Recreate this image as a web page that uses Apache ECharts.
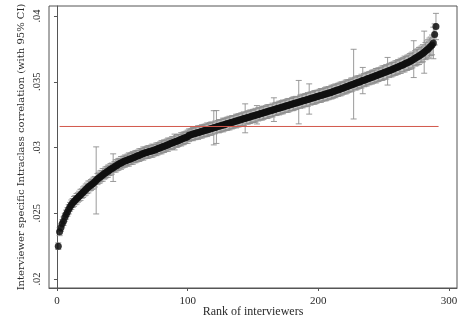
<!DOCTYPE html>
<html>
<head>
<meta charset="utf-8">
<script src="https://cdn.jsdelivr.net/npm/echarts@6/dist/echarts.min.js"></script>
<style>
html,body{margin:0;padding:0;background:#fff;}
#c{width:468px;height:320px;}
</style>
</head>
<body>
<div id="c"></div>
<script>
// Interviewer-specific ICC estimates, sorted by rank (rank = position + 1)
const iccValues = [
.02250,.02360,.02390,.02420,.02440,.02470,.02490,.02510,.02530,.02550,
.02565,.02578,.02590,.02600,.02610,.02620,.02630,.02640,.02650,.02660,
.02670,.02680,.02690,.02700,.02708,.02715,.02722,.02730,.02740,.02750,
.02760,.02768,.02776,.02784,.02792,.02800,.02807,.02814,.02820,.02827,
.02834,.02840,.02847,.02853,.02860,.02866,.02872,.02878,.02883,.02888,
.02893,.02897,.02901,.02905,.02909,.02913,.02917,.02921,.02925,.02930,
.02934,.02938,.02942,.02946,.02950,.02954,.02958,.02961,.02964,.02967,
.02970,.02973,.02976,.02979,.02982,.02986,.02990,.02994,.02998,.03002,
.03006,.03010,.03014,.03018,.03022,.03026,.03030,.03034,.03038,.03042,
.03046,.03050,.03054,.03058,.03062,.03066,.03070,.03074,.03078,.03082,
.03093,.03096,.03099,.03102,.03105,.03108,.03111,.03114,.03117,.03120,
.03123,.03126,.03129,.03132,.03135,.03138,.03141,.03144,.03147,.03150,
.03153,.03156,.03159,.03162,.03165,.03168,.03171,.03174,.03177,.03180,
.03183,.03186,.03189,.03192,.03195,.03198,.03201,.03204,.03207,.03210,
.03213,.03216,.03219,.03222,.03225,.03228,.03231,.03234,.03237,.03240,
.03243,.03246,.03249,.03252,.03255,.03258,.03261,.03264,.03267,.03270,
.03273,.03276,.03279,.03282,.03285,.03288,.03291,.03294,.03297,.03300,
.03303,.03306,.03309,.03312,.03315,.03318,.03321,.03324,.03327,.03330,
.03333,.03336,.03339,.03342,.03345,.03348,.03351,.03354,.03357,.03360,
.03363,.03366,.03369,.03372,.03375,.03378,.03381,.03384,.03387,.03390,
.03393,.03396,.03399,.03402,.03405,.03408,.03411,.03414,.03417,.03421,
.03424,.03428,.03431,.03435,.03438,.03442,.03445,.03449,.03452,.03456,
.03460,.03464,.03467,.03471,.03475,.03479,.03482,.03486,.03490,.03494,
.03497,.03501,.03505,.03509,.03512,.03516,.03520,.03524,.03527,.03531,
.03535,.03539,.03542,.03546,.03550,.03554,.03557,.03561,.03565,.03569,
.03572,.03576,.03580,.03584,.03588,.03592,.03596,.03600,.03604,.03608,
.03613,.03617,.03621,.03626,.03630,.03635,.03640,.03644,.03649,.03654,
.03660,.03666,.03672,.03678,.03684,.03690,.03696,.03703,.03710,.03717,
.03725,.03733,.03742,.03750,.03760,.03770,.03780,.03795,.03860,.03920
];

// Half-width of the 95% CI for each interviewer (same order)
const ciHalfWidth = [
.00025,.00030,.00028,.00030,.00032,.00030,.00034,.00032,.00035,.00033,
.00036,.00034,.00038,.00035,.00040,.00036,.00038,.00042,.00036,.00040,
.00038,.00042,.00040,.00045,.00038,.00042,.00040,.00044,.00040,.00255,
.00042,.00040,.00045,.00042,.00048,.00040,.00044,.00042,.00046,.00040,
.00044,.00042,.00105,.00040,.00046,.00042,.00045,.00040,.00048,.00044,
.00042,.00046,.00040,.00045,.00050,.00042,.00044,.00048,.00040,.00046,
.00044,.00042,.00048,.00045,.00040,.00050,.00044,.00042,.00046,.00048,
.00042,.00045,.00050,.00044,.00040,.00048,.00046,.00042,.00045,.00050,
.00044,.00048,.00042,.00046,.00050,.00044,.00042,.00048,.00045,.00060,
.00044,.00048,.00046,.00042,.00050,.00045,.00048,.00044,.00046,.00050,
.00048,.00044,.00046,.00050,.00045,.00048,.00044,.00052,.00046,.00048,
.00050,.00045,.00048,.00046,.00052,.00044,.00048,.00050,.00046,.00130,
.00048,.00125,.00046,.00050,.00048,.00045,.00052,.00048,.00046,.00050,
.00048,.00052,.00046,.00050,.00048,.00045,.00052,.00048,.00050,.00046,
.00050,.00048,.00052,.00110,.00046,.00050,.00048,.00052,.00046,.00050,
.00048,.00052,.00070,.00050,.00046,.00048,.00052,.00050,.00046,.00048,
.00052,.00050,.00048,.00046,.00052,.00090,.00048,.00050,.00046,.00052,
.00048,.00050,.00052,.00046,.00048,.00050,.00052,.00048,.00046,.00050,
.00052,.00048,.00050,.00046,.00165,.00050,.00048,.00052,.00046,.00050,
.00048,.00052,.00115,.00050,.00046,.00048,.00052,.00050,.00048,.00046,
.00050,.00052,.00048,.00046,.00050,.00052,.00048,.00050,.00046,.00052,
.00050,.00048,.00052,.00046,.00050,.00048,.00052,.00050,.00046,.00048,
.00052,.00050,.00048,.00046,.00052,.00050,.00265,.00048,.00052,.00050,
.00048,.00046,.00052,.00100,.00050,.00048,.00052,.00046,.00050,.00048,
.00052,.00050,.00048,.00055,.00050,.00052,.00048,.00050,.00055,.00052,
.00050,.00055,.00105,.00052,.00050,.00055,.00052,.00050,.00055,.00052,
.00055,.00052,.00058,.00050,.00055,.00060,.00052,.00058,.00055,.00060,
.00058,.00060,.00140,.00058,.00062,.00060,.00065,.00060,.00062,.00065,
.00160,.00065,.00068,.00070,.00072,.00070,.00075,.00120,.00080,.00100
];

const overallIcc = 0.0316;           // reference (red) line
const meanLineRange = [2, 292];       // x extent of red line
const xTicks = [0, 100, 200, 300];
const yTicks = [0.02, 0.025, 0.03, 0.035, 0.04];
const yTickLabels = ['.02', '.025', '.03', '.035', '.04'];
const xTitle = 'Rank of interviewers';
const yTitle = 'Interviewer specific Intraclass correlation (with 95% CI)';

const points = iccValues.map((v, i) => [i + 1, v]);
const bars = iccValues.map((v, i) => [i + 1, v - ciHalfWidth[i], v + ciHalfWidth[i]]);

const font = 'Liberation Serif';
const textColor = '#2a2a2a';

const chart = echarts.init(document.getElementById('c'));
chart.setOption({
  animation: false,
  backgroundColor: '#fff',
  grid: { left: 49, right: 11, top: 6, bottom: 32, outerBoundsMode: 'none', containLabel: false,
          show: true, borderColor: '#555', borderWidth: 1, backgroundColor: '#fff' },
  xAxis: {
    type: 'value', min: -6.1, max: 306.1,
    name: xTitle, nameLocation: 'middle', nameGap: 18, nameMoveOverlap: false,
    nameTextStyle: { fontFamily: font, fontSize: 12, color: textColor },
    axisLine: { show: true, lineStyle: { color: '#555' } },
    axisTick: { show: true, customValues: xTicks, length: 3, lineStyle: { color: '#555' } },
    axisLabel: { customValues: xTicks, fontFamily: font, fontSize: 11, color: textColor, margin: 8 },
    splitLine: { show: false }
  },
  yAxis: {
    type: 'value', min: 0.01932, max: 0.04076,
    name: yTitle, nameLocation: 'middle', nameGap: 23, nameRotate: 90, nameMoveOverlap: false,
    nameTextStyle: { fontFamily: 'DejaVu Serif', fontSize: 10, color: textColor },
    axisLine: { show: true, lineStyle: { color: '#555' } },
    axisTick: { show: true, customValues: yTicks, length: 3, lineStyle: { color: '#555' } },
    axisLabel: {
      customValues: yTicks, rotate: 90, align: 'center', verticalAlign: 'bottom',
      fontFamily: font, fontSize: 10.5, color: textColor, margin: 6,
      formatter: v => { const k = yTicks.findIndex(t => Math.abs(t - v) < 1e-9); return k >= 0 ? yTickLabels[k] : ''; }
    },
    splitLine: { show: false }
  },
  series: [
    {
      type: 'custom', z: 2,
      data: bars,
      encode: { x: 0, y: [1, 2] },
      renderItem: (params, api) => {
        const x = api.value(0);
        const pLo = api.coord([x, api.value(1)]);
        const pHi = api.coord([x, api.value(2)]);
        const cap = 3;
        const st = { stroke: '#8f8f8f', lineWidth: 0.9 };
        return { type: 'group', children: [
          { type: 'line', shape: { x1: pLo[0], y1: pLo[1], x2: pHi[0], y2: pHi[1] }, style: st },
          { type: 'line', shape: { x1: pLo[0] - cap, y1: pLo[1], x2: pLo[0] + cap, y2: pLo[1] }, style: st },
          { type: 'line', shape: { x1: pHi[0] - cap, y1: pHi[1], x2: pHi[0] + cap, y2: pHi[1] }, style: st }
        ]};
      }
    },
    {
      type: 'scatter', z: 3,
      data: points,
      symbol: 'circle', symbolSize: 7,
      itemStyle: { color: '#111', opacity: 0.85 }
    },
    {
      type: 'line', z: 4,
      data: [[meanLineRange[0], overallIcc], [meanLineRange[1], overallIcc]],
      symbol: 'none',
      lineStyle: { color: '#d2584c', width: 1 }
    }
  ]
});
</script>
</body>
</html>
